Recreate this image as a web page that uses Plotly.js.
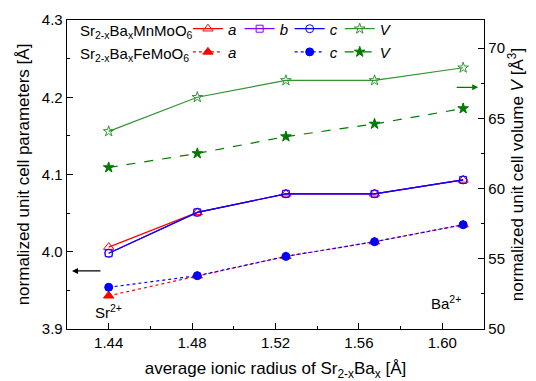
<!DOCTYPE html>
<html><head><meta charset="utf-8">
<script src="https://cdn.plot.ly/plotly-3.0.1.min.js"></script>
<style>html,body{margin:0;padding:0;background:#fff}#chart{width:536px;height:381px}</style>
</head><body><div id="chart"></div>
<script>
// Average ionic radius of Sr(2-x)Ba(x) [Å]
const radius = [1.44, 1.4825, 1.525, 1.5675, 1.61];
// Sr2-xBaxMnMoO6
const mnA = [4.006, 4.051, 4.075, 4.075, 4.093];
const mnB = [3.998, 4.051, 4.075, 4.075, 4.093];
const mnC = [3.998, 4.051, 4.075, 4.075, 4.093];
const mnV = [64.07, 66.5, 67.7, 67.7, 68.6];
// Sr2-xBaxFeMoO6
const feA = [3.943, 3.969, 3.994, 4.013, 4.035];
const feC = [3.954, 3.969, 3.994, 4.013, 4.035];
const feV = [61.5, 62.5, 63.7, 64.6, 65.7];

const xTicks = [1.44, 1.48, 1.52, 1.56, 1.60];
const xTickText = ['1.44', '1.48', '1.52', '1.56', '1.60'];
const yTicks = [3.9, 4.0, 4.1, 4.2, 4.3];
const yTickText = ['3.9', '4.0', '4.1', '4.2', '4.3'];
const y2Ticks = [50, 55, 60, 65, 70];

const RED = '#ff0000', PURPLE = '#8000ff', BLUE = '#0000ff', GREEN = '#007a00', LGREEN = '#2f962f';
const FONT = 'Arial, "Liberation Sans", sans-serif';

function tr(y, name, color, symbol, dash, size, legend, opts) {
  return Object.assign({
    x: radius, y: y, name: name, type: 'scatter', mode: 'lines+markers', legend: legend,
    line: {color: color, width: 1.2, dash: dash},
    marker: {color: color, symbol: symbol, size: size, line: {color: color, width: 1}}
  }, opts || {});
}

const traces = [
  tr(mnA, '<i>a</i>', RED, 'triangle-up-open', 'solid', 9, 'legend'),
  tr(mnB, '<i>b</i>', PURPLE, 'square-open', 'solid', 7, 'legend2'),
  tr(mnC, '<i>c</i>', BLUE, 'circle-open', 'solid', 8, 'legend3'),
  tr(mnV, '<i>V</i>', LGREEN, 'star-open', 'solid', 8, 'legend4', {yaxis: 'y2'}),
  tr(feA, '<i>a</i>', RED, 'triangle-up', 'dot', 9, 'legend5'),
  tr(feC, '<i>c</i>', BLUE, 'circle', 'dot', 8, 'legend6'),
  tr(feV, '<i>V</i>', GREEN, 'star', 'dash', 8, 'legend7', {yaxis: 'y2'})
];

const axisCommon = {
  showline: true, linecolor: '#000', linewidth: 1.3, ticks: 'inside', ticklen: 6,
  tickwidth: 1, tickcolor: '#000', showgrid: false, zeroline: false,
  tickfont: {family: FONT, size: 15, color: '#000'}
};
const titleFont = {family: FONT, size: 17, color: '#000'};
const legFont = {family: FONT, size: 15, color: '#000'};

function leg(xPaper, yPaper) {
  return {orientation: 'v', x: xPaper, y: yPaper, xanchor: 'left', yanchor: 'middle',
          bgcolor: 'rgba(0,0,0,0)', borderwidth: 0, font: legFont};
}
const row1 = 0.971, row2 = 0.896;

const layout = {
  width: 536, height: 381,
  margin: {l: 67, r: 52, t: 20, b: 52},
  paper_bgcolor: '#fff', plot_bgcolor: '#fff',
  font: {family: FONT, color: '#000'},
  xaxis: Object.assign({}, axisCommon, {
    range: [1.42, 1.62], tickvals: xTicks, ticktext: xTickText, mirror: true,
    minor: {dtick: 0.02, tick0: 1.42, ticks: 'inside', ticklen: 3, tickcolor: '#000', showgrid: false},
    title: {text: 'average ionic radius of Sr<sub>2-x</sub>Ba<sub>x</sub> [Å]', font: titleFont, standoff: 17}
  }),
  yaxis: Object.assign({}, axisCommon, {
    range: [3.9, 4.3], tickvals: yTicks, ticktext: yTickText,
    minor: {dtick: 0.05, tick0: 3.9, ticks: 'inside', ticklen: 3, tickcolor: '#000', showgrid: false},
    title: {text: 'normalized unit cell parameters [Å]', font: titleFont, standoff: 8}
  }),
  yaxis2: Object.assign({}, axisCommon, {
    range: [50, 72], tickvals: y2Ticks, overlaying: 'y', side: 'right',
    minor: {dtick: 2.5, tick0: 50, ticks: 'inside', ticklen: 3, tickcolor: '#000', showgrid: false},
    title: {text: 'normalized unit cell volume <i>V</i> [Å<sup>3</sup>]', font: titleFont, standoff: 6}
  }),
  legend: leg(0.29, row1),
  legend2: leg(0.414, row1),
  legend3: leg(0.534, row1),
  legend4: leg(0.654, row1),
  legend5: leg(0.29, row2),
  legend6: leg(0.534, row2),
  legend7: leg(0.654, row2),
  annotations: [
    {xref: 'paper', yref: 'paper', x: 0.026, y: 0.962, xanchor: 'left', yanchor: 'middle', showarrow: false,
     text: 'Sr<sub>2-x</sub>Ba<sub>x</sub>MnMoO<sub>6</sub>', font: legFont},
    {xref: 'paper', yref: 'paper', x: 0.026, y: 0.887, xanchor: 'left', yanchor: 'middle', showarrow: false,
     text: 'Sr<sub>2-x</sub>Ba<sub>x</sub>FeMoO<sub>6</sub>', font: legFont},
    {xref: 'paper', yref: 'paper', x: 0.012, y: 0.188, ax: 30, ay: 0, showarrow: true,
     arrowhead: 2, arrowsize: 1, arrowwidth: 1.2, arrowcolor: '#000', text: ''},
    {xref: 'paper', yref: 'paper', x: 0.986, y: 0.782, ax: -23, ay: 0, showarrow: true,
     arrowhead: 2, arrowsize: 1, arrowwidth: 1.2, arrowcolor: GREEN, text: ''},
    {xref: 'x', yref: 'paper', x: 1.44, y: 0.02, showarrow: false,
     text: 'Sr<sup>2+</sup>', font: legFont},
    {xref: 'x', yref: 'paper', x: 1.602, y: 0.05, showarrow: false,
     text: 'Ba<sup>2+</sup>', font: legFont}
  ],
  showlegend: true
};

Plotly.newPlot('chart', traces, layout, {staticPlot: true, displayModeBar: false});
</script></body></html>
